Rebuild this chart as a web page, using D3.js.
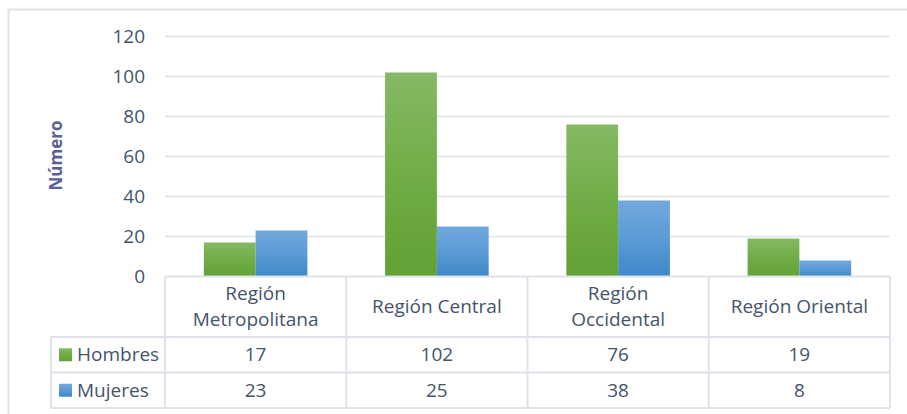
<!DOCTYPE html>
<html>
<head>
<meta charset="utf-8">
<script src="https://cdn.jsdelivr.net/npm/d3@7"></script>
<style>
  body { margin: 0; background: #fff; }
  svg { display: block; font-family: "Open Sans", sans-serif; }
</style>
</head>
<body>
<svg id="chart" width="907" height="414"></svg>
<script>
const categories = ['Región Metropolitana', 'Región Central', 'Región Occidental', 'Región Oriental'];
const seriesNames = ['Hombres', 'Mujeres'];
const hombres = [17, 102, 76, 19];
const mujeres = [23, 25, 38, 8];
const yTicks = [0, 20, 40, 60, 80, 100, 120];

const seriesValues = [hombres, mujeres];
const colours = [
  { top: '#86b964', bottom: '#62a134', key: '#70ad47' },
  { top: '#72a8de', bottom: '#3e88c9', key: '#5b9bd5' },
];
const textColour = '#44546a';
const lineColour = '#dee2e9';
const fontSize = '19px';

const svg = d3.select('#chart');
const plotLeft = 165;
const plotRight = 890;
const plotTop = 36.5;
const zero = 276.5;
const headerBottom = 337;
const rowH = 35.5;
const legendLeft = 51;

// gradients for the bars and legend keys
const defs = svg.append('defs');
colours.forEach((c, idx) => {
  const g = defs.append('linearGradient')
    .attr('id', 'grad' + idx)
    .attr('x1', 0).attr('y1', 0).attr('x2', 0).attr('y2', 1);
  g.append('stop').attr('offset', '0%').attr('stop-color', c.top);
  g.append('stop').attr('offset', '50%').attr('stop-color', c.key);
  g.append('stop').attr('offset', '100%').attr('stop-color', c.bottom);
});

// outer frame
svg.append('rect')
  .attr('x', 8.5).attr('y', 9.5)
  .attr('width', 920).attr('height', 420)
  .attr('fill', 'none')
  .attr('stroke', lineColour)
  .attr('stroke-width', 2);

const y = d3.scaleLinear().domain([0, 120]).range([zero, plotTop]);
const x = d3.scaleBand().domain(categories).range([plotLeft, plotRight]);
const xs = d3.scaleBand().domain(seriesNames).range([0, x.bandwidth()]).paddingOuter(0.75);

// gridlines
svg.append('g')
  .selectAll('line')
  .data(yTicks.filter((t) => t > 0))
  .join('line')
  .attr('x1', plotLeft).attr('x2', plotRight)
  .attr('y1', (d) => y(d)).attr('y2', (d) => y(d))
  .attr('stroke', lineColour)
  .attr('stroke-width', 1.5);

// y axis labels
const yAxis = svg.append('g')
  .attr('transform', `translate(${plotLeft - 20},0)`)
  .call(d3.axisLeft(y).tickValues(yTicks).tickSize(0).tickPadding(0));
yAxis.select('.domain').remove();
yAxis.selectAll('text')
  .attr('fill', textColour)
  .style('font-size', fontSize)
  .style('font-family', '"Open Sans", sans-serif');

// y axis title
svg.append('text')
  .attr('transform', `translate(62,${(plotTop + zero) / 2 - 1}) rotate(-90)`)
  .attr('text-anchor', 'middle')
  .attr('fill', '#5b5e97')
  .style('font-size', '17px')
  .style('font-weight', 'bold')
  .text('Número');

// bars
seriesNames.forEach((name, si) => {
  svg.append('g')
    .selectAll('rect')
    .data(categories)
    .join('rect')
    .attr('x', (d) => x(d) + xs(name))
    .attr('width', xs.bandwidth())
    .attr('y', (d, i) => y(seriesValues[si][i]))
    .attr('height', (d, i) => zero - y(seriesValues[si][i]))
    .attr('fill', `url(#grad${si})`);
});

// data table
const table = svg.append('g')
  .attr('stroke', lineColour)
  .attr('stroke-width', 2)
  .attr('fill', 'none');
const rowsBottom = headerBottom + rowH * seriesNames.length;
table.append('line').attr('x1', plotLeft).attr('x2', plotRight).attr('y1', zero).attr('y2', zero);
d3.range(seriesNames.length + 1).forEach((r) => {
  const yy = headerBottom + rowH * r;
  table.append('line').attr('x1', legendLeft).attr('x2', plotRight).attr('y1', yy).attr('y2', yy);
});
table.append('line').attr('x1', legendLeft).attr('x2', legendLeft).attr('y1', headerBottom).attr('y2', rowsBottom);
categories.concat([null]).forEach((c) => {
  const xx = c === null ? plotRight : x(c);
  table.append('line').attr('x1', xx).attr('x2', xx).attr('y1', zero).attr('y2', rowsBottom);
});

// header labels, wrapped when too wide
const header = svg.append('g')
  .selectAll('text')
  .data(categories)
  .join('text')
  .attr('text-anchor', 'middle')
  .attr('fill', textColour)
  .style('font-size', fontSize)
  .attr('x', (d) => x(d) + x.bandwidth() / 2);
header.each(function (d) {
  const t = d3.select(this);
  t.text(d);
  const mid = (zero + headerBottom) / 2;
  if (this.getComputedTextLength() > x.bandwidth() - 30) {
    const words = d.split(' ');
    t.text(null);
    words.forEach((w, i) => {
      t.append('tspan')
        .attr('x', x(d) + x.bandwidth() / 2)
        .attr('y', mid + (i - (words.length - 1) / 2) * 26)
        .attr('dy', '0.35em')
        .text(w);
    });
  } else {
    t.attr('y', mid).attr('dy', '0.35em');
  }
});

// rows
seriesNames.forEach((name, si) => {
  const cy = headerBottom + rowH * si + rowH / 2;
  svg.append('rect')
    .attr('x', 59).attr('y', cy - 6.5)
    .attr('width', 13).attr('height', 13)
    .attr('fill', `url(#grad${si})`);
  svg.append('text')
    .attr('x', 77).attr('y', cy).attr('dy', '0.35em')
    .attr('fill', textColour)
    .style('font-size', fontSize)
    .text(name);
  svg.append('g')
    .selectAll('text')
    .data(categories)
    .join('text')
    .attr('x', (d) => x(d) + x.bandwidth() / 2)
    .attr('y', cy).attr('dy', '0.35em')
    .attr('text-anchor', 'middle')
    .attr('fill', textColour)
    .style('font-size', fontSize)
    .text((d, i) => seriesValues[si][i]);
});
</script>
</body>
</html>
